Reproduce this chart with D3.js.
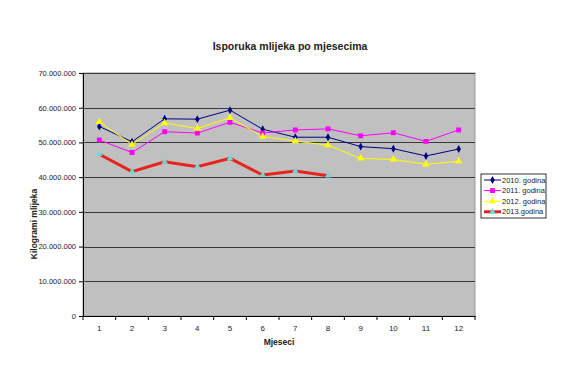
<!DOCTYPE html>
<html>
<head>
<meta charset="utf-8">
<script src="https://cdn.jsdelivr.net/npm/d3@7"></script>
<style>
  body { margin: 0; background: #fff; }
  svg { font-family: "Liberation Sans", Arial, sans-serif; }
</style>
</head>
<body>
<div id="chart"></div>
<script>
// podaci
var months = [1, 2, 3, 4, 5, 6, 7, 8, 9, 10, 11, 12];
var yTicks = [0, 10000000, 20000000, 30000000, 40000000, 50000000, 60000000, 70000000];
var god2010 = [54600000, 50200000, 56800000, 56700000, 59300000, 53800000, 51500000, 51500000, 48800000, 48200000, 46100000, 48100000];
var god2011 = [50700000, 47100000, 53100000, 52700000, 55800000, 52700000, 53600000, 53900000, 51900000, 52800000, 50300000, 53600000];
var god2012 = [55900000, 49400000, 55600000, 54000000, 57100000, 51700000, 50400000, 49200000, 45400000, 45100000, 43700000, 44600000];
var god2013 = [46600000, 41600000, 44400000, 43000000, 45400000, 40600000, 41800000, 40400000];
var seriesNames = ["2010. godina", "2011. godina", "2012. godina", "2013.godina"];

var W = 580, H = 387;
var margin = {top: 73, right: 105, bottom: 71, left: 83},
    width = W - margin.left - margin.right,
    height = H - margin.top - margin.bottom;

var svg = d3.select("#chart").append("svg")
    .attr("width", W)
    .attr("height", H);

svg.append("text")
    .attr("x", 290)
    .attr("y", 50)
    .attr("text-anchor", "middle")
    .attr("font-size", 10.5)
    .attr("font-weight", "bold")
    .attr("fill", "#222")
    .text("Isporuka mlijeka po mjesecima");

var g = svg.append("g")
    .attr("transform", "translate(" + margin.left + "," + margin.top + ")");

var x = d3.scaleBand().domain(months).range([0, width]);
var y = d3.scaleLinear().domain([0, 70000000]).range([height, 0]);

// pozadina
g.append("rect")
    .attr("width", width)
    .attr("height", height)
    .attr("fill", "#c0c0c0")
    .attr("stroke", "#9a9a9a")
    .attr("stroke-width", 1);

// mreža
g.append("g")
    .selectAll("line")
    .data(yTicks.slice(1))
    .enter()
    .append("line")
    .attr("x1", 0)
    .attr("x2", width)
    .attr("y1", function (d) { return Math.round(y(d)) + 0.5; })
    .attr("y2", function (d) { return Math.round(y(d)) + 0.5; })
    .attr("stroke", "#3a3a3a")
    .attr("stroke-width", 1);

var fmt = function (d) {
    return d3.format(",")(d).replace(/,/g, ".");
};

// y os
var yAxis = g.append("g")
    .call(d3.axisLeft(y).tickValues(yTicks).tickSize(4).tickPadding(3).tickFormat(fmt));
yAxis.selectAll("text").attr("font-size", 7.5).attr("fill", "#222");
yAxis.select(".domain").attr("stroke", "#000");

// x os
var xAxis = g.append("g")
    .attr("transform", "translate(0," + height + ")")
    .call(d3.axisBottom(x).tickSize(0).tickPadding(9));
xAxis.selectAll("text").attr("font-size", 8).attr("fill", "#222");
xAxis.select(".domain").attr("stroke", "#000");
xAxis.selectAll(".bnd")
    .data(d3.range(months.length + 1))
    .enter()
    .append("line")
    .attr("x1", function (d) { return d * x.step(); })
    .attr("x2", function (d) { return d * x.step(); })
    .attr("y1", 0)
    .attr("y2", 4)
    .attr("stroke", "#000");

g.append("text")
    .attr("x", width / 2)
    .attr("y", height + 29)
    .attr("text-anchor", "middle")
    .attr("font-size", 8.5)
    .attr("font-weight", "bold")
    .attr("fill", "#222")
    .text("Mjeseci");

g.append("text")
    .attr("transform", "rotate(-90)")
    .attr("x", -151)
    .attr("y", -46)
    .attr("text-anchor", "middle")
    .attr("font-size", 8.5)
    .attr("font-weight", "bold")
    .attr("fill", "#222")
    .text("Kilogrami mlijeka");

var line = d3.line()
    .x(function (d, i) { return x(months[i]) + x.bandwidth() / 2; })
    .y(function (d) { return y(d); });

var cx = function (d, i) { return x(months[i]) + x.bandwidth() / 2; };

// 2010
g.append("path").datum(god2010).attr("d", line)
    .attr("fill", "none").attr("stroke", "#000080").attr("stroke-width", 1);
// 2011
g.append("path").datum(god2011).attr("d", line)
    .attr("fill", "none").attr("stroke", "#ff00ff").attr("stroke-width", 1);
// 2012
g.append("path").datum(god2012).attr("d", line)
    .attr("fill", "none").attr("stroke", "#ffff00").attr("stroke-width", 1);
// 2013
g.append("path").datum(god2013).attr("d", line)
    .attr("fill", "none").attr("stroke", "#e8231e").attr("stroke-width", 3);

var diamond = d3.symbol().type(d3.symbolDiamond).size(18);
var square = d3.symbol().type(d3.symbolSquare).size(24);
var triangle = d3.symbol().type(d3.symbolTriangle).size(24);
var tri2013 = d3.symbol().type(d3.symbolTriangle).size(18);

function markers(data, sym, color) {
    g.append("g").selectAll("path")
        .data(data)
        .enter()
        .append("path")
        .attr("d", sym)
        .attr("transform", function (d, i) { return "translate(" + cx(d, i) + "," + y(d) + ")"; })
        .attr("fill", color);
}
markers(god2010, diamond, "#000080");
markers(god2011, square, "#ff00ff");
markers(god2012, triangle, "#ffff00");
markers(god2013, tri2013, "#66dddd");

// legenda
var lg = svg.append("g").attr("transform", "translate(481,174)");
lg.append("rect")
    .attr("width", 65)
    .attr("height", 44)
    .attr("fill", "#fff")
    .attr("stroke", "#000")
    .attr("stroke-width", 0.8);

var legColors = ["#000080", "#ff00ff", "#ffff00", "#e8231e"];
var legSyms = [diamond, square, triangle, tri2013];
var legSymColors = ["#000080", "#ff00ff", "#ffff00", "#66dddd"];
var items = lg.selectAll("g.item")
    .data(seriesNames)
    .enter()
    .append("g")
    .attr("transform", function (d, i) { return "translate(0," + (6 + i * 10.6) + ")"; });
items.append("line")
    .attr("x1", 3).attr("x2", 20)
    .attr("stroke", function (d, i) { return legColors[i]; })
    .attr("stroke-width", function (d, i) { return i === 3 ? 3 : 1; });
items.append("path")
    .attr("d", function (d, i) { return legSyms[i](); })
    .attr("transform", "translate(11.5,0)")
    .attr("fill", function (d, i) { return legSymColors[i]; });
items.append("text")
    .attr("x", 21)
    .attr("dy", "0.35em")
    .attr("font-size", 7.5)
    .attr("fill", "#222")
    .text(function (d) { return d; });
</script>
</body>
</html>
